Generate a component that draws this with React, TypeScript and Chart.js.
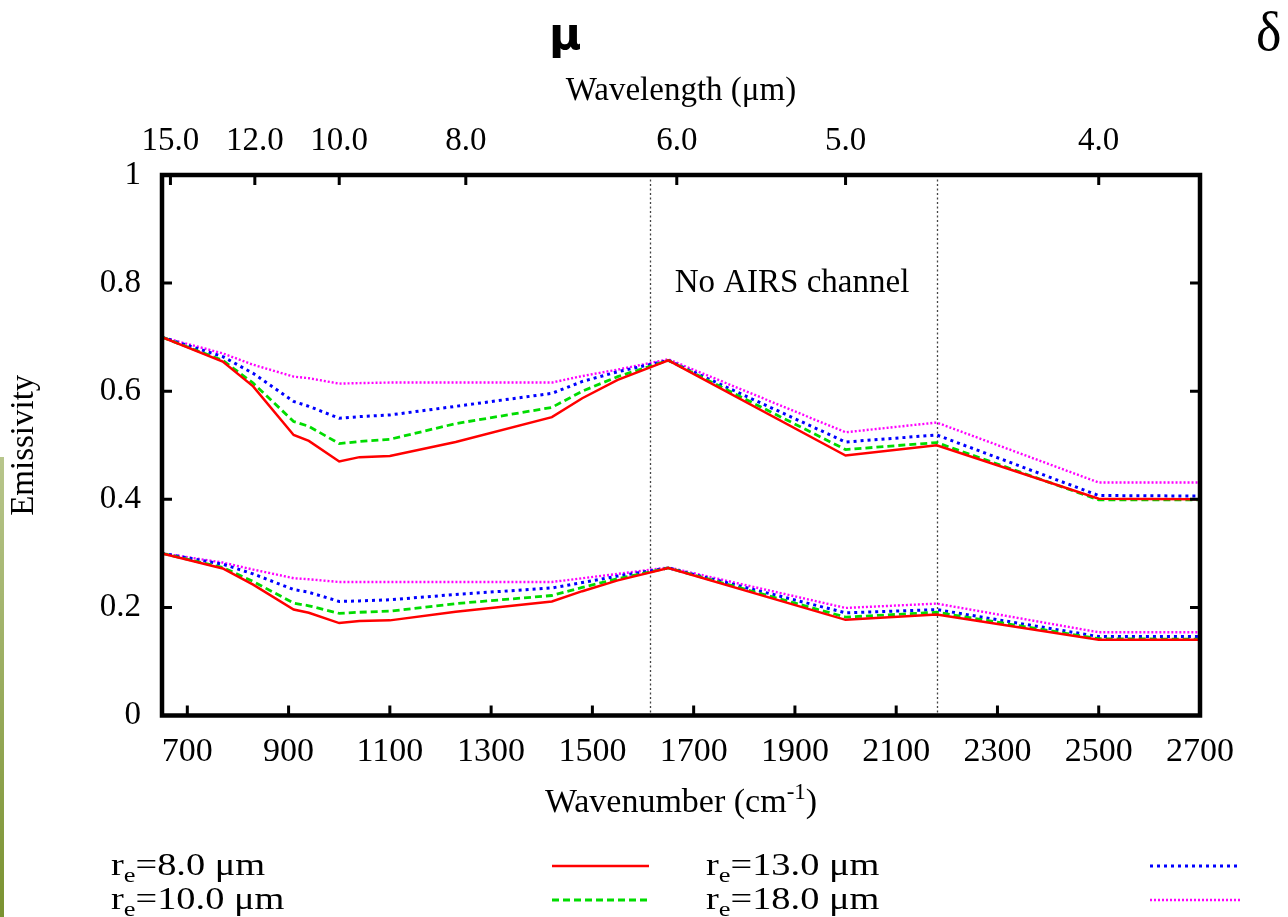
import React, { useEffect, useRef } from "react";
import { Chart, registerables } from "chart.js";

Chart.register(...registerables);

// ---- data ----
const wavenumbers = [650, 770, 830, 910, 940, 1000, 1040, 1100, 1230, 1420, 1480, 1550, 1650, 2000, 2180, 2500, 2700];

// upper group of curves
const upperR8 = [0.700, 0.655, 0.609, 0.519, 0.508, 0.470, 0.478, 0.480, 0.506, 0.552, 0.587, 0.621, 0.657, 0.481, 0.500, 0.401, 0.400];
const upperR10 = [0.700, 0.657, 0.615, 0.544, 0.535, 0.503, 0.507, 0.511, 0.540, 0.570, 0.600, 0.627, 0.657, 0.492, 0.505, 0.399, 0.399];
const upperR13 = [0.700, 0.664, 0.633, 0.581, 0.572, 0.550, 0.553, 0.556, 0.572, 0.596, 0.618, 0.636, 0.657, 0.506, 0.519, 0.407, 0.406];
const upperR18 = [0.700, 0.670, 0.649, 0.627, 0.624, 0.614, 0.615, 0.616, 0.616, 0.616, 0.628, 0.640, 0.659, 0.524, 0.542, 0.431, 0.431];

// lower group of curves
const lowerR8 = [0.300, 0.272, 0.242, 0.196, 0.190, 0.171, 0.175, 0.176, 0.192, 0.211, 0.230, 0.250, 0.273, 0.177, 0.187, 0.140, 0.140];
const lowerR10 = [0.300, 0.274, 0.248, 0.208, 0.203, 0.189, 0.191, 0.193, 0.207, 0.222, 0.237, 0.253, 0.273, 0.182, 0.191, 0.142, 0.141];
const lowerR13 = [0.300, 0.280, 0.262, 0.233, 0.228, 0.211, 0.212, 0.214, 0.224, 0.236, 0.246, 0.258, 0.273, 0.190, 0.196, 0.146, 0.146];
const lowerR18 = [0.300, 0.283, 0.270, 0.254, 0.252, 0.247, 0.247, 0.247, 0.247, 0.247, 0.254, 0.262, 0.274, 0.199, 0.207, 0.154, 0.154];

const radiusLabels = ["8.0", "10.0", "13.0", "18.0"];
const xTickValues = [700, 900, 1100, 1300, 1500, 1700, 1900, 2100, 2300, 2500, 2700];
const wavelengthTicks = [15, 12, 10, 8, 6, 5, 4];
const yTickValues = [0, 0.2, 0.4, 0.6, 0.8, 1];
const channelGap = [1614, 2181];

const seriesColors = ["rgb(255,0,0)", "rgb(0,220,0)", "rgb(0,0,255)", "rgb(255,0,255)"];
const seriesDashes: number[][] = [[], [7, 4], [3, 4], [2, 2]];
const seriesWidths = [2.5, 2.8, 3, 2.4];

const SERIF = "'Liberation Serif', 'Times New Roman', serif";

const upperSets = [upperR8, upperR10, upperR13, upperR18];
const lowerSets = [lowerR8, lowerR10, lowerR13, lowerR18];

function makeDataset(vals: number[], i: number, label: string) {
  return {
    label,
    data: wavenumbers.map((x, k) => ({ x, y: vals[k] })),
    borderColor: seriesColors[i],
    backgroundColor: seriesColors[i],
    borderDash: seriesDashes[i],
    borderWidth: seriesWidths[i],
    pointRadius: 0,
    tension: 0,
    fill: false,
    xAxisID: "x",
    yAxisID: "y",
  };
}

const decorPlugin = {
  id: "decor",
  beforeDatasetsDraw(chart: any) {
    const { ctx, chartArea: a, scales } = chart;
    ctx.save();
    ctx.strokeStyle = "#444";
    ctx.lineWidth = 1.3;
    ctx.setLineDash([2, 2.5]);
    const pxs: number[] = [];
    for (const v of channelGap) {
      const px = Math.round(scales.x.getPixelForValue(v)) + 0.5;
      pxs.push(px);
      ctx.beginPath();
      ctx.moveTo(px, a.top);
      ctx.lineTo(px, a.bottom);
      ctx.stroke();
    }
    ctx.setLineDash([]);
    ctx.fillStyle = "#000";
    ctx.font = `33px ${SERIF}`;
    ctx.textAlign = "center";
    ctx.textBaseline = "middle";
    ctx.fillText("No AIRS channel", (pxs[0] + pxs[1]) / 2 - 2, scales.y.getPixelForValue(0.8));
    ctx.restore();
  },
  afterDatasetsDraw(chart: any) {
    const { ctx, chartArea: a, scales } = chart;
    ctx.save();
    // frame
    ctx.strokeStyle = "#000";
    ctx.lineWidth = 4.5;
    ctx.setLineDash([]);
    ctx.strokeRect(a.left, a.top, a.right - a.left, a.bottom - a.top);
    // inward ticks
    ctx.lineWidth = 3;
    const tl = 10;
    ctx.beginPath();
    for (const v of xTickValues) {
      const px = scales.x.getPixelForValue(v);
      ctx.moveTo(px, a.bottom);
      ctx.lineTo(px, a.bottom - tl);
    }
    for (const w of wavelengthTicks) {
      const px = scales.x2.getPixelForValue(10000 / w);
      ctx.moveTo(px, a.top);
      ctx.lineTo(px, a.top + tl);
    }
    for (const v of yTickValues) {
      const py = scales.y.getPixelForValue(v);
      ctx.moveTo(a.left, py);
      ctx.lineTo(a.left + tl, py);
      ctx.moveTo(a.right, py);
      ctx.lineTo(a.right - tl, py);
    }
    ctx.stroke();

    // bottom axis title with superscript
    ctx.fillStyle = "#000";
    ctx.textBaseline = "alphabetic";
    ctx.textAlign = "left";
    const mainFont = `34px ${SERIF}`;
    const supFont = `23px ${SERIF}`;
    const t1 = "Wavenumber (cm";
    const t2 = "-1";
    const t3 = ")";
    ctx.font = mainFont;
    const w1 = ctx.measureText(t1).width;
    const w3 = ctx.measureText(t3).width;
    ctx.font = supFont;
    const w2 = ctx.measureText(t2).width;
    const total = w1 + w2 + w3;
    const cx = (a.left + a.right) / 2;
    let x = cx - total / 2;
    const base = 812;
    ctx.font = mainFont;
    ctx.fillText(t1, x, base);
    x += w1;
    ctx.font = supFont;
    ctx.fillText(t2, x, base - 13);
    x += w2;
    ctx.font = mainFont;
    ctx.fillText(t3, x, base);

    // legend
    const ds = chart.data.datasets;
    const cols = [
      { tx: 111, lx0: 552, lx1: 649 },
      { tx: 706, lx0: 1150, lx1: 1240 },
    ];
    const rows = [{ base: 875, ly: 866 }, { base: 909, ly: 900 }];
    radiusLabels.forEach((lab, i) => {
      const col = cols[Math.floor(i / 2)];
      const row = rows[i % 2];
      ctx.save();
      ctx.translate(col.tx, row.base);
      ctx.scale(1.2, 1);
      ctx.font = `32px ${SERIF}`;
      ctx.fillText("r", 0, 0);
      let xx = ctx.measureText("r").width;
      ctx.font = `22px ${SERIF}`;
      ctx.fillText("e", xx, 7);
      xx += ctx.measureText("e").width;
      ctx.font = `32px ${SERIF}`;
      ctx.fillText(`=${lab} \u03BCm`, xx, 0);
      ctx.restore();
      const d = ds[i];
      ctx.strokeStyle = d.borderColor;
      ctx.lineWidth = d.borderWidth;
      ctx.setLineDash(d.borderDash || []);
      ctx.beginPath();
      ctx.moveTo(col.lx0, row.ly);
      ctx.lineTo(col.lx1, row.ly);
      ctx.stroke();
      ctx.setLineDash([]);
    });

    // stray glyphs at top
    ctx.fillStyle = "#000";
    ctx.font = "bold 44px 'DejaVu Sans', sans-serif";
    ctx.fillText("\u03BC", 549, 49);
    ctx.font = `54px ${SERIF}`;
    ctx.fillText("\u03B4", 1256, 50);
    ctx.restore();
  },
};

export default function App() {
  const canvasRef = useRef<HTMLCanvasElement | null>(null);

  useEffect(() => {
    const canvas = canvasRef.current;
    if (!canvas) return;
    Chart.defaults.font.family = SERIF;
    Chart.defaults.font.size = 33;
    Chart.defaults.color = "#000";

    const datasets = [
      ...upperSets.map((v, i) => makeDataset(v, i, `r_e=${radiusLabels[i]} \u03BCm`)),
      ...lowerSets.map((v, i) => makeDataset(v, i, `r_e=${radiusLabels[i]} \u03BCm (low)`)),
    ];

    const chart = new Chart(canvas, {
      type: "line",
      data: { datasets },
      options: {
        animation: false,
        responsive: false,
        devicePixelRatio: 1,
        layout: { padding: { left: 0, right: 88, top: 0, bottom: 0 } },
        plugins: { legend: { display: false }, tooltip: { enabled: false }, title: { display: false } },
        scales: {
          x: {
            type: "linear",
            position: "bottom",
            min: 650,
            max: 2700,
            border: { display: false },
            grid: { display: false, drawTicks: false },
            ticks: {
              padding: 16,
              autoSkip: false,
              maxRotation: 0,
              font: { size: 34 },
              callback: (v: any) => String(v),
            },
            afterBuildTicks: (scale: any) => {
              scale.ticks = xTickValues.map((value) => ({ value }));
            },
            afterFit: (scale: any) => {
              scale.height = 201.5;
            },
          },
          x2: {
            type: "linear",
            position: "top",
            min: 650,
            max: 2700,
            border: { display: false },
            grid: { display: false, drawTicks: false },
            ticks: {
              padding: 14,
              autoSkip: false,
              maxRotation: 0,
              callback: (v: any) => (10000 / Number(v)).toFixed(1),
            },
            title: { display: true, text: "Wavelength (\u03BCm)", padding: { top: 72, bottom: 0 } },
            afterBuildTicks: (scale: any) => {
              scale.ticks = wavelengthTicks.map((w) => ({ value: 10000 / w }));
            },
            afterFit: (scale: any) => {
              scale.height = 175;
            },
          },
          y: {
            type: "linear",
            position: "left",
            min: 0,
            max: 1,
            border: { display: false },
            grid: { display: false, drawTicks: false },
            ticks: {
              padding: 21,
              callback: (v: any) => String(Math.round(Number(v) * 10) / 10),
            },
            afterBuildTicks: (scale: any) => {
              scale.ticks = yTickValues.map((value) => ({ value }));
            },
            title: { display: true, text: "Emissivity", padding: { top: 5, bottom: 0 } },
            afterFit: (scale: any) => {
              scale.width = 162;
            },
          },
        },
      },
      plugins: [decorPlugin],
    } as any);

    return () => chart.destroy();
  }, []);

  return (
    <div style={{ position: "fixed", left: 0, top: 0, width: 1288, height: 917, background: "#fff" }}>
      <canvas ref={canvasRef} width={1288} height={917} style={{ display: "block", width: 1288, height: 917 }} />
      <div
        style={{
          position: "absolute",
          left: 0,
          top: 457,
          width: 4,
          height: 460,
          background: "linear-gradient(to bottom, rgb(184,198,140), rgb(122,146,48))",
        }}
      />
    </div>
  );
}
